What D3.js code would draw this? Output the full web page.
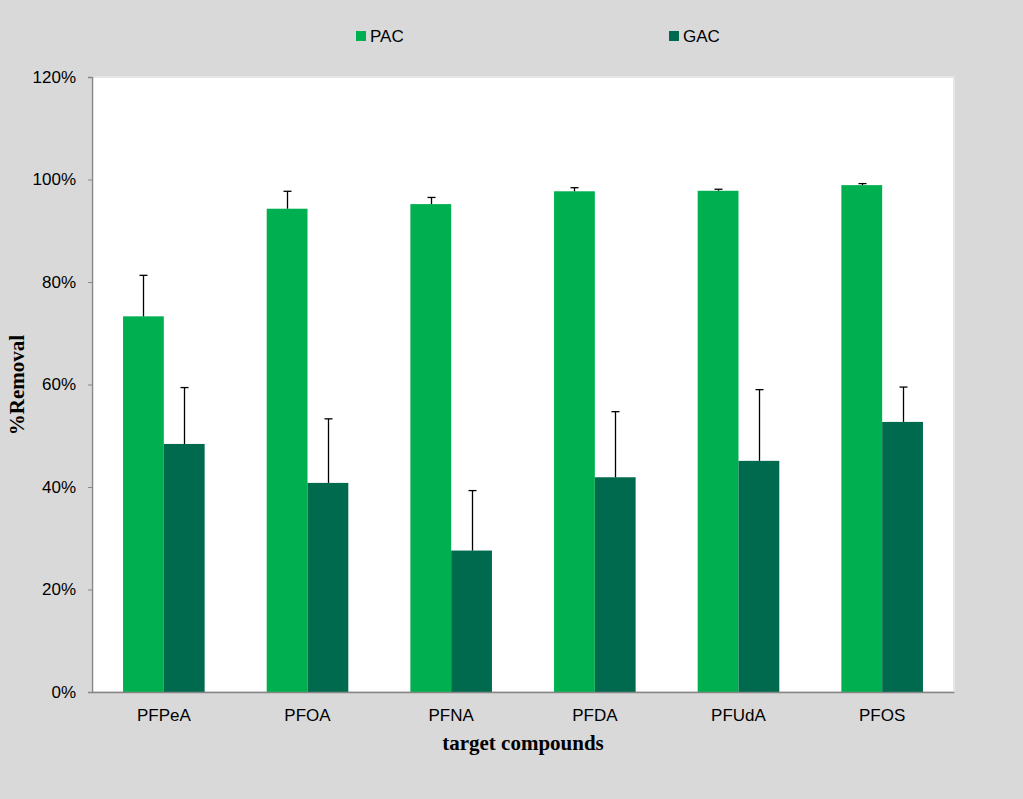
<!DOCTYPE html>
<html>
<head>
<meta charset="utf-8">
<script src="https://cdn.jsdelivr.net/npm/d3@7"></script>
<style>
  html, body { margin: 0; padding: 0; background: #d9d9d9; }
  svg { display: block; }
</style>
</head>
<body>
<svg id="chart" width="1023" height="799"></svg>
<script>
const categories = ['PFPeA', 'PFOA', 'PFNA', 'PFDA', 'PFUdA', 'PFOS']
const seriesNames = ['PAC', 'GAC']
const pacValues = [73.3, 94.3, 95.2, 97.7, 97.8, 98.9]
const pacErrors = [8.0, 3.4, 1.3, 0.7, 0.3, 0.3]
const gacValues = [48.4, 40.8, 27.6, 41.9, 45.1, 52.7]
const gacErrors = [11.0, 12.5, 11.7, 12.8, 13.9, 6.8]
const yTicks = [0, 20, 40, 60, 80, 100, 120]

const colors = { PAC: '#00b050', GAC: '#006a4e' }

let rows = []
categories.forEach((cat, i) => {
  rows.push({ cat: cat, series: 'PAC', value: pacValues[i], err: pacErrors[i] })
  rows.push({ cat: cat, series: 'GAC', value: gacValues[i], err: gacErrors[i] })
})

const plot = { left: 92, right: 954, top: 77, bottom: 692 }
const svg = d3.select('#chart')

let x0 = d3.scaleBand().domain(categories).range([plot.left, plot.right]).padding(0)
let bw = x0.bandwidth()
let x1 = d3.scaleBand().domain(seriesNames).range([bw * 0.216, bw * 0.784]).padding(0)
let y = d3.scaleLinear().domain([0, 120]).range([plot.bottom, plot.top])

// plot area
svg.append('rect')
  .attr('x', plot.left)
  .attr('y', plot.top)
  .attr('width', plot.right - plot.left)
  .attr('height', plot.bottom - plot.top)
  .attr('fill', '#ffffff')
  .attr('stroke', '#e6e6e6')
  .attr('stroke-width', 2)

// bars
svg.append('g')
  .selectAll('rect')
  .data(rows)
  .enter()
  .append('rect')
  .attr('x', d => x0(d.cat) + x1(d.series))
  .attr('width', x1.bandwidth())
  .attr('y', d => y(d.value))
  .attr('height', d => y(0) - y(d.value))
  .attr('fill', d => colors[d.series])

// error bars (plus side only)
let errG = svg.append('g').attr('stroke', '#000').attr('stroke-width', 1.3)
rows.forEach(d => {
  let cx = Math.round(x0(d.cat) + x1(d.series) + x1.bandwidth() / 2) + 0.5
  errG.append('line')
    .attr('x1', cx).attr('x2', cx)
    .attr('y1', y(d.value)).attr('y2', y(d.value + d.err))
  errG.append('line')
    .attr('x1', cx - 4).attr('x2', cx + 4)
    .attr('y1', y(d.value + d.err)).attr('y2', y(d.value + d.err))
})

// y axis
let yAxis = d3.axisLeft(y)
  .tickValues(yTicks)
  .tickFormat(d => d + '%')
  .tickSize(4)
  .tickPadding(12)
let yG = svg.append('g')
  .attr('transform', `translate(${plot.left},0)`)
  .call(yAxis)
yG.select('.domain').attr('stroke', '#868686').attr('stroke-width', 1.5)
yG.selectAll('.tick line').attr('stroke', '#868686')
yG.selectAll('.tick text')
  .attr('fill', '#000')
  .style('font-family', 'Liberation Sans, Arial, sans-serif')
  .style('font-size', '17px')

// x axis
let xAxis = d3.axisBottom(x0).tickSize(0).tickPadding(17)
let xG = svg.append('g')
  .attr('transform', `translate(0,${plot.bottom})`)
  .call(xAxis)
xG.select('.domain').attr('stroke', '#868686').attr('stroke-width', 1.5)
xG.selectAll('.tick text')
  .attr('fill', '#000')
  .style('font-family', 'Liberation Sans, Arial, sans-serif')
  .style('font-size', '17px')

// axis titles
svg.append('text')
  .attr('x', 523)
  .attr('y', 750)
  .attr('text-anchor', 'middle')
  .style('font-family', 'Liberation Serif, Times New Roman, serif')
  .style('font-weight', 'bold')
  .style('font-size', '21px')
  .text('target compounds')

svg.append('text')
  .attr('transform', 'translate(24,385) rotate(-90)')
  .attr('text-anchor', 'middle')
  .style('font-family', 'Liberation Serif, Times New Roman, serif')
  .style('font-weight', 'bold')
  .style('font-size', '21px')
  .text('%Removal')

// legend
let legendPos = { PAC: 356, GAC: 669 }
let legend = svg.append('g')
  .selectAll('g')
  .data(seriesNames)
  .enter()
  .append('g')
  .attr('transform', d => `translate(${legendPos[d]}, 31)`)

legend.append('rect')
  .attr('width', 10)
  .attr('height', 10)
  .attr('fill', d => colors[d])

legend.append('text')
  .attr('x', 14)
  .attr('y', 11)
  .style('font-family', 'Liberation Sans, Arial, sans-serif')
  .style('font-size', '17px')
  .text(d => d)
</script>
</body>
</html>
